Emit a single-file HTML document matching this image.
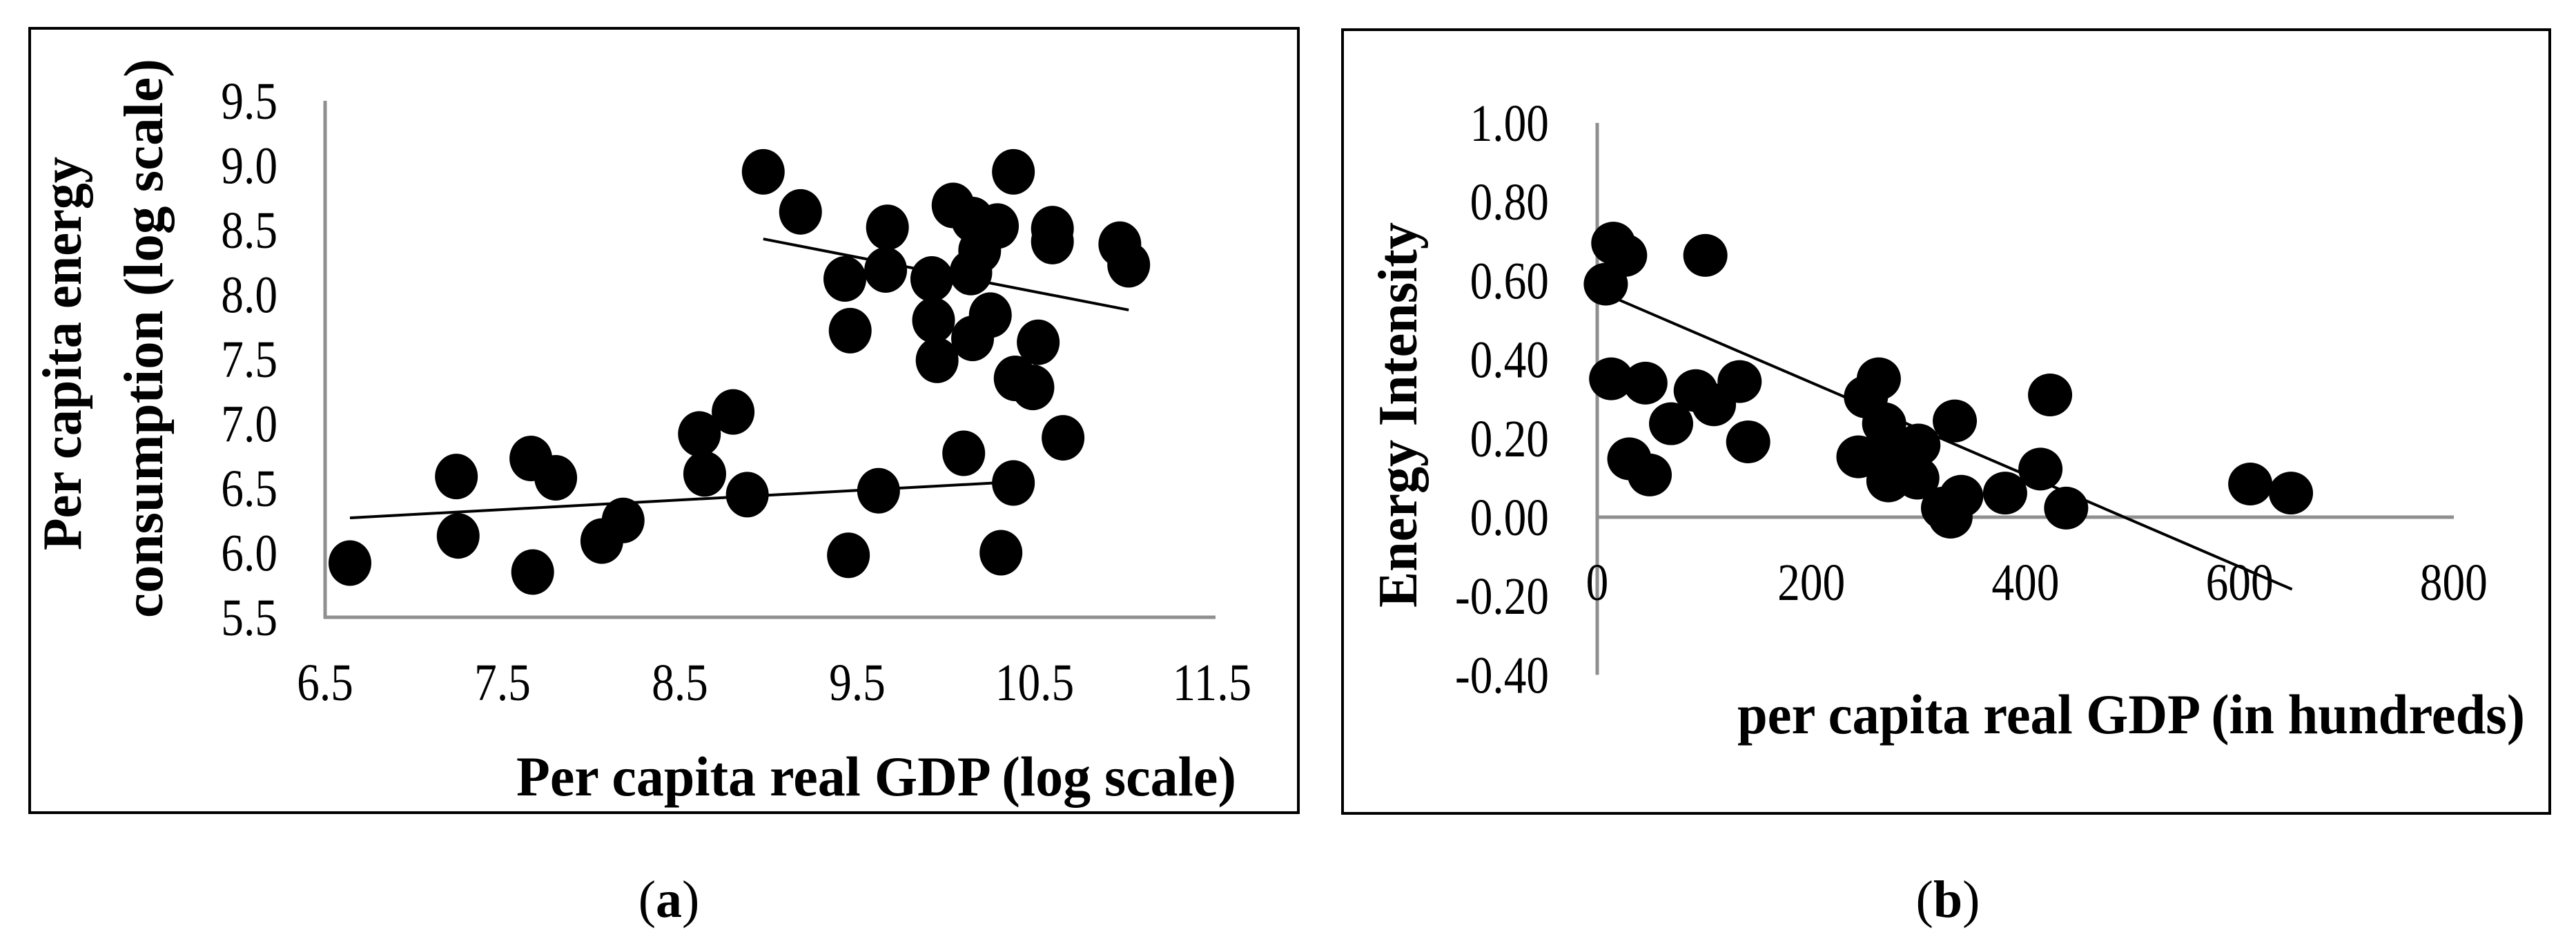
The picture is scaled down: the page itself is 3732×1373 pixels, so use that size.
<!DOCTYPE html>
<html><head><meta charset="utf-8"><style>
html,body{margin:0;padding:0;background:#fff;}
svg{display:block;font-family:"Liberation Serif",serif;}
</style></head><body>
<svg id="fig" width="3732" height="1373" viewBox="0 0 3732 1373" xmlns="http://www.w3.org/2000/svg">
<rect x="43" y="41" width="1838" height="1136" fill="none" stroke="#000" stroke-width="4"/>
<rect x="1945" y="43" width="1749" height="1135" fill="none" stroke="#000" stroke-width="4"/>
<g id="ga"></g>
<g id="gb"></g>
<text x="117" y="512" font-size="80" font-weight="bold" text-anchor="middle" transform="rotate(-90 117 512)" textLength="570" lengthAdjust="spacingAndGlyphs">Per capita energy</text>
<text x="235" y="490" font-size="80" font-weight="bold" text-anchor="middle" transform="rotate(-90 235 490)" textLength="810" lengthAdjust="spacingAndGlyphs">consumption (log scale)</text>
<text x="748" y="1152" font-size="82" font-weight="bold" textLength="1043" lengthAdjust="spacingAndGlyphs">Per capita real GDP (log scale)</text>
<text x="2052" y="601" font-size="80" font-weight="bold" text-anchor="middle" transform="rotate(-90 2052 601)" textLength="558" lengthAdjust="spacingAndGlyphs">Energy Intensity</text>
<text x="2517" y="1062" font-size="82" font-weight="bold" textLength="1141" lengthAdjust="spacingAndGlyphs">per capita real GDP (in hundreds)</text>
<text x="969" y="1328" font-size="76" text-anchor="middle">(<tspan font-weight="bold">a</tspan>)</text>
<text x="2822" y="1328" font-size="76" text-anchor="middle">(<tspan font-weight="bold">b</tspan>)</text>
</svg>
<script>
const NS="http://www.w3.org/2000/svg";
// Chart A data
const aXTicks=[6.5,7.5,8.5,9.5,10.5,11.5];
const aYTicks=[5.5,6.0,6.5,7.0,7.5,8.0,8.5,9.0,9.5];
const aX=[6.64,7.24,7.25,7.66,7.80,7.67,8.06,8.18,8.61,8.64,8.80,8.88,8.97,9.18,9.43,9.46,9.45,9.67,9.66,9.62,9.92,9.93,9.95,10.04,10.15,10.14,10.15,10.19,10.29,10.25,10.10,10.31,10.38,10.38,10.39,10.49,10.52,10.60,10.60,10.66,10.98,11.03];
const aY=[5.92,6.59,6.13,6.73,6.58,5.85,6.09,6.25,6.92,6.61,7.09,6.45,8.95,8.64,8.12,7.72,5.98,8.52,8.19,6.48,8.12,7.80,7.49,8.69,8.58,8.17,7.66,8.34,8.53,7.84,6.77,6.00,6.54,8.95,7.35,7.28,7.63,8.51,8.41,6.89,8.39,8.23];
const aTrend1X=[6.64,10.27], aTrend1Y=[6.27,6.54];
const aTrend2X=[8.97,11.03], aTrend2Y=[8.43,7.88];
// Chart B data
const bXTicks=[0,200,400,600,800];
const bYTicks=[1.0,0.8,0.6,0.4,0.2,0.0,-0.2,-0.4];
const bYLabels=["1.00","0.80","0.60","0.40","0.20","0.00","-0.20","-0.40"];
const bX=[15,26,8,101,13,45,30,49,69,92,109,133,141,251,263,268,244,274,272,300,299,285,323,330,340,334,381,414,423,438,610,648];
const bY=[0.695,0.664,0.591,0.664,0.351,0.340,0.148,0.107,0.237,0.321,0.285,0.344,0.191,0.305,0.351,0.237,0.153,0.168,0.092,0.183,0.099,0.130,0.023,0.000,0.053,0.244,0.061,0.122,0.310,0.023,0.084,0.061];
const bTrendX=[11,649], bTrendY=[0.562,-0.183];

const ax=v=>471+(v-6.5)*257;
const ay=v=>894-(v-5.5)*187;
const bx=v=>2314+v*1.551;
const by=v=>749-v*571;
const FS=76;
function w(s){let n=0;for(const c of s){n+= c==='.'?0.25:(c==='-'?0.33:0.5);}return n*FS*0.86;}

function mk(tag,parent){const e=document.createElementNS(NS,tag);parent.appendChild(e);return e;}
function lbl(parent,x,y,s,anchor,name){const t=mk('text',parent);t.setAttribute('x',x);t.setAttribute('y',y);t.setAttribute('font-size',FS);t.setAttribute('text-anchor',anchor);t.setAttribute('textLength',w(s));t.setAttribute('lengthAdjust','spacingAndGlyphs');t.textContent=s;return t;}
const ga=document.getElementById('ga'), gb=document.getElementById('gb');

// Chart A axes
let l=mk('line',ga);l.setAttribute('x1',471);l.setAttribute('x2',471);l.setAttribute('y1',ay(9.5));l.setAttribute('y2',ay(5.5)+2);l.setAttribute('stroke','#8f8f8f');l.setAttribute('stroke-width',5);


l=mk('line',ga);l.setAttribute('x1',469);l.setAttribute('x2',1761);l.setAttribute('y1',ay(5.5));l.setAttribute('y2',ay(5.5));l.setAttribute('stroke','#8f8f8f');l.setAttribute('stroke-width',5);


aYTicks.forEach(v=>{const t=lbl(ga,402,ay(v)+26,v.toFixed(1),'end');

});
aXTicks.forEach(v=>{const t=lbl(ga,ax(v),1014,v.toFixed(1),'middle');

});
aX.forEach((v,i)=>{const c=mk('ellipse',ga);c.setAttribute('cx',ax(v));c.setAttribute('cy',ay(aY[i]));c.setAttribute('rx',31);c.setAttribute('ry',33);c.setAttribute('fill','#000');

});
[[aTrend1X,aTrend1Y],[aTrend2X,aTrend2Y]].forEach(([xs,ys])=>{const t=mk('line',ga);t.setAttribute('x1',ax(xs[0]));t.setAttribute('y1',ay(ys[0]));t.setAttribute('x2',ax(xs[1]));t.setAttribute('y2',ay(ys[1]));t.setAttribute('stroke','#000');t.setAttribute('stroke-width',4);

});

// Chart B axes
l=mk('line',gb);l.setAttribute('x1',2314);l.setAttribute('x2',2314);l.setAttribute('y1',by(1.0));l.setAttribute('y2',by(-0.4));l.setAttribute('stroke','#8f8f8f');l.setAttribute('stroke-width',5);


l=mk('line',gb);l.setAttribute('x1',2312);l.setAttribute('x2',3555);l.setAttribute('y1',by(0));l.setAttribute('y2',by(0));l.setAttribute('stroke','#8f8f8f');l.setAttribute('stroke-width',5);


bYTicks.forEach((v,i)=>{const t=lbl(gb,2244,by(v)+26,bYLabels[i],'end');

});
bXTicks.forEach(v=>{const t=lbl(gb,bx(v),869,String(v),'middle');

});
bX.forEach((v,i)=>{const c=mk('ellipse',gb);c.setAttribute('cx',bx(v));c.setAttribute('cy',by(bY[i]));c.setAttribute('rx',32);c.setAttribute('ry',31);c.setAttribute('fill','#000');

});
l=mk('line',gb);l.setAttribute('x1',bx(bTrendX[0]));l.setAttribute('y1',by(bTrendY[0]));l.setAttribute('x2',bx(bTrendX[1]));l.setAttribute('y2',by(bTrendY[1]));l.setAttribute('stroke','#000');l.setAttribute('stroke-width',4);


</script>
</body></html>
